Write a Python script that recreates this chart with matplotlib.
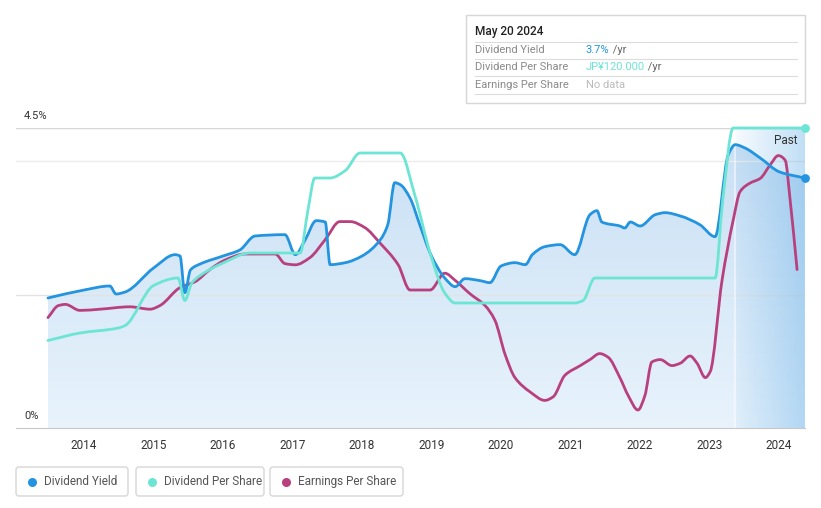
import numpy as np
import matplotlib
matplotlib.use('Agg')
import matplotlib.pyplot as plt
from matplotlib.colors import to_rgb
from matplotlib.patches import FancyBboxPatch, Rectangle, PathPatch
from matplotlib.path import Path

plt.rcParams['font.family'] = ['Roboto', 'DejaVu Sans']

# dividend yield (%)
yield_years = [2013.48, 2014.00, 2014.37, 2014.46, 2014.59, 2015.00, 2015.31, 2015.38, 2015.45, 2015.53,
               2015.67, 2016.00, 2016.24, 2016.46, 2016.89, 2017.04, 2017.18, 2017.34, 2017.47, 2017.54,
               2017.76, 2018.00, 2018.26, 2018.37, 2018.47, 2018.55, 2018.69, 2018.83, 2018.99, 2019.19,
               2019.34, 2019.48, 2019.70, 2019.84, 2020.00, 2020.20, 2020.35, 2020.45, 2020.63, 2020.85,
               2021.06, 2021.28, 2021.38, 2021.45, 2021.71, 2021.78, 2021.86, 2022.00, 2022.22, 2022.36,
               2022.58, 2022.86, 2023.08, 2023.27, 2023.37, 2023.51, 2023.73, 2024.01, 2024.37]
yield_pct = [1.95, 2.07, 2.13, 2.01, 2.04, 2.40, 2.60, 2.58, 2.03, 2.37,
             2.46, 2.58, 2.67, 2.88, 2.90, 2.60, 2.82, 3.11, 3.09, 2.45,
             2.48, 2.58, 2.82, 3.05, 3.68, 3.65, 3.45, 3.05, 2.60, 2.25,
             2.12, 2.24, 2.21, 2.18, 2.43, 2.48, 2.45, 2.60, 2.72, 2.75,
             2.60, 3.20, 3.26, 3.09, 3.03, 3.00, 3.09, 3.03, 3.20, 3.23,
             3.18, 3.05, 2.87, 4.10, 4.25, 4.20, 4.05, 3.84, 3.75]

# dividend per share (JPY)
dps_years = [2013.48, 2013.94, 2014.49, 2014.59, 2015.00, 2015.35, 2015.45, 2015.55, 2015.67, 2016.00,
             2016.39, 2016.96, 2017.11, 2017.22, 2017.32, 2017.54, 2017.76, 2017.97, 2018.55, 2018.76,
             2018.99, 2019.19, 2019.34, 2021.06, 2021.18, 2021.35, 2023.08, 2023.19, 2023.34, 2024.37]
dps = [35, 38, 40, 41, 57, 60, 51, 58, 61, 66,
       70, 70, 70, 87, 100, 100, 103, 110, 110, 93,
       69, 54, 50, 50, 51, 60, 60, 91, 120, 120]

# earnings per share (JPY)
eps_years = [2013.48, 2013.63, 2013.73, 2013.94, 2014.23, 2014.66, 2014.95, 2015.09, 2015.38, 2015.60,
             2015.81, 2016.03, 2016.32, 2016.75, 2016.89, 2017.04, 2017.25, 2017.47, 2017.68, 2017.83,
             2018.04, 2018.26, 2018.52, 2018.69, 2018.98, 2019.19, 2019.34, 2019.55, 2019.77, 2019.91,
             2020.06, 2020.20, 2020.42, 2020.63, 2020.75, 2020.92, 2021.14, 2021.28, 2021.42, 2021.54,
             2021.71, 2021.83, 2021.97, 2022.07, 2022.17, 2022.29, 2022.46, 2022.58, 2022.72, 2022.82,
             2022.94, 2023.01, 2023.18, 2023.34, 2023.44, 2023.58, 2023.73, 2023.87, 2023.99, 2024.09,
             2024.16, 2024.26]
eps = [92, 102, 103, 98, 99, 101, 99, 102, 117, 122,
       132, 140, 145, 145, 137, 136, 142, 157, 172, 172,
       167, 154, 136, 115, 115, 129, 123, 112, 102, 90,
       61, 42, 30, 23, 26, 44, 52, 57, 62, 59,
       42, 27, 15, 27, 55, 57, 52, 54, 60, 54,
       42, 47, 123, 173, 197, 204, 208, 219, 227, 223,
       190, 132]

tick_years = list(range(2014, 2025))
past_start = 2023.37
x_min, x_max = 2013.02, 2024.374
y_max = 4.5
dps_scale = y_max / 120.0
eps_scale = y_max / 250.0

blue = '#2394df'
teal = '#6ce5d4'
magenta = '#b8407f'


def smooth_path(xs, ys, close_to=None):
    # bezier segments with monotone tangents, like a d3 monotoneX curve
    x = np.asarray(xs, float)
    y = np.asarray(ys, float)
    h = np.diff(x)
    d = np.diff(y) / h
    m = np.zeros_like(y)
    m[0], m[-1] = d[0], d[-1]
    for i in range(1, len(x) - 1):
        if d[i - 1] * d[i] > 0:
            w1, w2 = 2 * h[i] + h[i - 1], h[i] + 2 * h[i - 1]
            m[i] = (w1 + w2) / (w1 / d[i - 1] + w2 / d[i])
    verts = [(x[0], y[0])]
    codes = [Path.MOVETO]
    for i in range(len(x) - 1):
        verts += [(x[i] + h[i] / 3, y[i] + m[i] * h[i] / 3),
                  (x[i + 1] - h[i] / 3, y[i + 1] - m[i + 1] * h[i] / 3),
                  (x[i + 1], y[i + 1])]
        codes += [Path.CURVE4] * 3
    if close_to is not None:
        verts += [(x[-1], close_to), (x[0], close_to), (x[0], y[0])]
        codes += [Path.LINETO, Path.LINETO, Path.CLOSEPOLY]
    return Path(verts, codes)


fig = plt.figure(figsize=(8.21, 5.08), dpi=100)
W, H = 821, 508
ax = fig.add_axes([16 / W, 1 - 428 / H, (805 - 16) / W, 300 / H])

# gradient fill under the yield line
area = smooth_path(yield_years, yield_pct, close_to=0)
top_c, bot_c = np.array(to_rgb('#c8dff4')), np.array(to_rgb('#e8f3fc'))
t = np.linspace(0, 1, 256)[:, None]
grad = np.concatenate([bot_c * (1 - t) + top_c * t, np.ones_like(t)], axis=1)[:, None, :]
img = ax.imshow(grad, extent=[x_min, x_max, 0, y_max], aspect='auto', origin='lower', zorder=1)
img.set_clip_path(area, transform=ax.transData)

# past region overlay
s = np.linspace(0, 1, 256)
past = np.zeros((1, 256, 4))
past[0, :, :3] = to_rgb('#5aa9e6')
past[0, :, 3] = 0.05 + 0.33 * s
ax.imshow(past, extent=[past_start, x_max, 0, y_max], aspect='auto', origin='lower', zorder=1.5)
ax.axvline(past_start, color='white', lw=1.2, alpha=0.6, zorder=1.6)

# gridlines
for g, c in [(2.0, '#e3e3e3'), (4.0, '#ececec'), (4.5, '#d6d6d6')]:
    ax.axhline(g, color=c, lw=1, zorder=1.2)

kw = dict(fill=False, lw=2.0, joinstyle='round', capstyle='round', clip_on=False)
ax.add_patch(PathPatch(smooth_path(eps_years, np.array(eps) * eps_scale), edgecolor=magenta, zorder=3, **kw))
ax.add_patch(PathPatch(smooth_path(yield_years, yield_pct), edgecolor=blue, zorder=4, **kw))
ax.add_patch(PathPatch(smooth_path(dps_years, np.array(dps) * dps_scale), edgecolor=teal, zorder=5, **kw))
ax.scatter([yield_years[-1]], [yield_pct[-1]], s=28, color=blue, zorder=6, clip_on=False)
ax.scatter([dps_years[-1]], [dps[-1] * dps_scale], s=28, color=teal, zorder=6, clip_on=False)

ax.set_xlim(x_min, x_max)
ax.set_ylim(0, y_max)
ax.set_xticks(tick_years)
ax.set_xticklabels([str(y) for y in tick_years], fontsize=8.5, color='#333333')
ax.tick_params(axis='x', length=0, pad=8)
ax.set_yticks([])
for sp in ['top', 'right', 'left']:
    ax.spines[sp].set_visible(False)
ax.spines['bottom'].set_color('#c8c8c8')
ax.set_facecolor('none')

ax.text(8 / 789, 4.5 + 12 * y_max / 300, '4.5%', transform=ax.get_yaxis_transform(),
        fontsize=8, color='#333333', va='center')
ax.text(8 / 789, 12 * y_max / 300, '0%', transform=ax.get_yaxis_transform(),
        fontsize=8, color='#333333', va='center')
ax.text((797 - 16) / 789, 4.5 - 12 * y_max / 300, 'Past', transform=ax.get_yaxis_transform(),
        fontsize=8.5, color='#333333', va='center', ha='right', zorder=7)

# overlay in pixel coordinates for tooltip and legend
ov = fig.add_axes([0, 0, 1, 1], zorder=10)
ov.set_xlim(0, W)
ov.set_ylim(H, 0)
ov.axis('off')
ov.set_facecolor('none')

ov.add_patch(Rectangle((466, 15), 339, 88, facecolor='white', edgecolor='#d6d6d6', lw=1))
ov.text(475, 32, 'May 20 2024', fontsize=8.5, color='#222222', va='center', fontweight='medium')
for ly in [42, 59, 76, 94]:
    ov.plot([475, 797], [ly, ly], color='#dcdcdc', lw=0.8)
rows = [('Dividend Yield', '3.7%', blue, ' /yr'),
        ('Dividend Per Share', 'JP¥120.000', teal, ' /yr'),
        ('Earnings Per Share', 'No data', '#bbbbbb', '')]
for i, (lab, val, col, suf) in enumerate(rows):
    yy = 50 + i * 17.5
    ov.text(475, yy, lab, fontsize=8, color='#8a8a8a', va='center')
    tv = ov.text(586, yy, val, fontsize=8, color=col, va='center')
    if suf:
        ov.annotate(suf, xycoords=tv, xy=(1, 0.5), va='center', fontsize=8, color='#666666')

legend_items = [('Dividend Yield', blue, 16, 128), ('Dividend Per Share', teal, 136, 264),
                ('Earnings Per Share', magenta, 270, 403)]
for lab, col, x0, x1 in legend_items:
    ov.add_patch(FancyBboxPatch((x0, 467), x1 - x0, 29, boxstyle='round,pad=0,rounding_size=3',
                                facecolor='white', edgecolor='#d6d6d6', lw=1))
    ov.scatter([x0 + 16], [481.5], s=30, color=col)
    ov.text(x0 + 28, 481.5, lab, fontsize=8.5, color='#555555', va='center')

fig.savefig('out.png', dpi=100)
